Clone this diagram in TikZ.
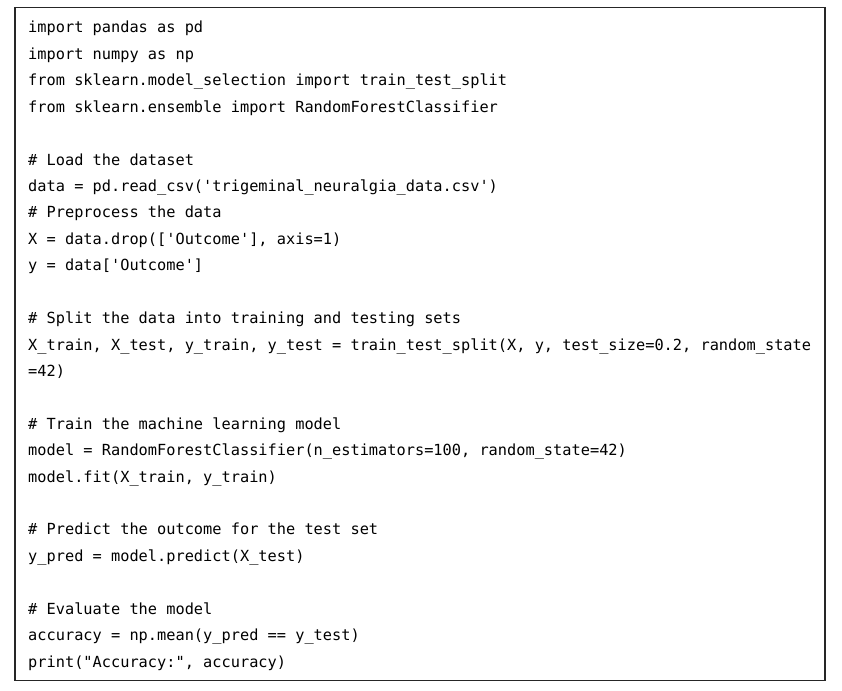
\documentclass[tikz,border=0pt]{standalone}
\usepackage{fontspec}
\setmonofont{DejaVu Sans Mono}
\begin{document}
\begin{tikzpicture}[x=1pt,y=1pt,
  codeline/.style={anchor=base west, inner sep=0pt, font=\fontsize{15.3}{18}\ttfamily, text=black}]
\useasboundingbox (0,0) rectangle (842,-690);
\fill[white] (0,0) rectangle (842,-690);
\draw[line width=1.3pt, black!85] (15,-7.5) rectangle (825,-680.5);
\def\lh{26.42}
\foreach \i/\t in {
 1/{import pandas as pd},
 2/{import numpy as np},
 3/{from sklearn.model\_selection import train\_test\_split},
 4/{from sklearn.ensemble import RandomForestClassifier},
 6/{\# Load the dataset},
 7/{data = pd.read\_csv('trigeminal\_neuralgia\_data.csv')},
 8/{\# Preprocess the data},
 9/{X = data.drop(['Outcome'], axis=1)},
 10/{y = data['Outcome']},
 12/{\# Split the data into training and testing sets},
 13/{X\_train, X\_test, y\_train, y\_test = train\_test\_split(X, y, test\_size=0.2, random\_state},
 14/{=42)},
 16/{\# Train the machine learning model},
 17/{model = RandomForestClassifier(n\_estimators=100, random\_state=42)},
 18/{model.fit(X\_train, y\_train)},
 20/{\# Predict the outcome for the test set},
 21/{y\_pred = model.predict(X\_test)},
 23/{\# Evaluate the model},
 24/{accuracy = np.mean(y\_pred == y\_test)},
 25/{print("Accuracy:", accuracy)}}
 {\node[codeline] (line\i) at (28,{-33-(\i-1)*\lh}) {\t};}
\end{tikzpicture}
\end{document}
